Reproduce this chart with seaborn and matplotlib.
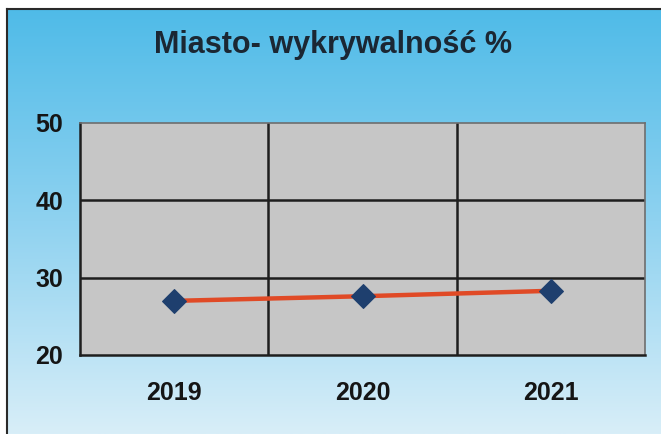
import numpy as np
import pandas as pd
import matplotlib
matplotlib.use("Agg")
import matplotlib.pyplot as plt
from matplotlib.colors import LinearSegmentedColormap
import seaborn as sns

# dane
lata = ["2019", "2020", "2021"]
wykrywalnosc = [27.0, 27.6, 28.3]
y_ticks = [20, 30, 40, 50]
tytul = "Miasto- wykrywalność %"

df = pd.DataFrame({"x": range(len(lata)), "rok": lata, "wartosc": wykrywalnosc})

sns.set_style("white")
plt.rcParams["font.family"] = ["Liberation Sans", "DejaVu Sans"]

fig = plt.figure(figsize=(6.61, 4.34), dpi=100)
fig.patch.set_facecolor("white")

# tlo z gradientem
bg = fig.add_axes([7 / 661, 0.0, 1 - 7 / 661, 1 - 9 / 434])
cmap = LinearSegmentedColormap.from_list("niebo", ["#4fbbe8", "#8fd2f0", "#d8eef8"])
grad = np.linspace(0, 1, 256).reshape(-1, 1)
bg.imshow(grad, aspect="auto", cmap=cmap, extent=[0, 1, 0, 1])
bg.set_xticks([])
bg.set_yticks([])
for s in ["left", "top"]:
    bg.spines[s].set_color("#2a2a2a")
    bg.spines[s].set_linewidth(1.5)
for s in ["right", "bottom"]:
    bg.spines[s].set_visible(False)

ax = fig.add_axes([80 / 661, 79 / 434, 565 / 661, 232 / 434])
ax.set_facecolor("#c6c6c6")

sns.lineplot(data=df, x="x", y="wartosc", ax=ax, color="#e04a26", linewidth=3.2,
             marker="D", markersize=12, markerfacecolor="#1e3f6e",
             markeredgecolor="#1e3f6e", zorder=5)

ax.set_xlim(-0.5, len(lata) - 0.5)
ax.set_ylim(y_ticks[0], y_ticks[-1])
ax.set_yticks(y_ticks)
ax.set_yticklabels([str(v) for v in y_ticks], fontsize=18, fontweight="bold", color="#151515")
ax.set_xticks(range(len(lata)))
ax.set_xticklabels(lata, fontsize=18, fontweight="bold", color="#151515")
ax.tick_params(axis="x", length=0, pad=19)
ax.tick_params(axis="y", length=7, width=1.5, color="#222222", pad=5)

ax.set_xticks(np.arange(0.5, len(lata), 1.0), minor=True)
ax.tick_params(axis="x", which="minor", length=7, width=1.5, color="#222222", direction="out")
for xv in np.arange(0.5, len(lata) - 1, 1.0):
    ax.axvline(xv, color="#1e1e1e", linewidth=1.8, zorder=1)
for yv in y_ticks[1:-1]:
    ax.axhline(yv, color="#1e1e1e", linewidth=1.8, zorder=1)

ax.set_xlabel("")
ax.set_ylabel("")
ax.spines["left"].set_color("#1e1e1e")
ax.spines["left"].set_linewidth(1.8)
ax.spines["bottom"].set_color("#1e1e1e")
ax.spines["bottom"].set_linewidth(1.8)
for s in ["top", "right"]:
    ax.spines[s].set_color("#6e6e6e")
    ax.spines[s].set_linewidth(1.2)

fig.text(333 / 661, 1 - 45 / 434, tytul, ha="center", va="center", fontsize=22,
         fontweight="bold", color="#1b2733")

fig.savefig("out.png", dpi=100)
